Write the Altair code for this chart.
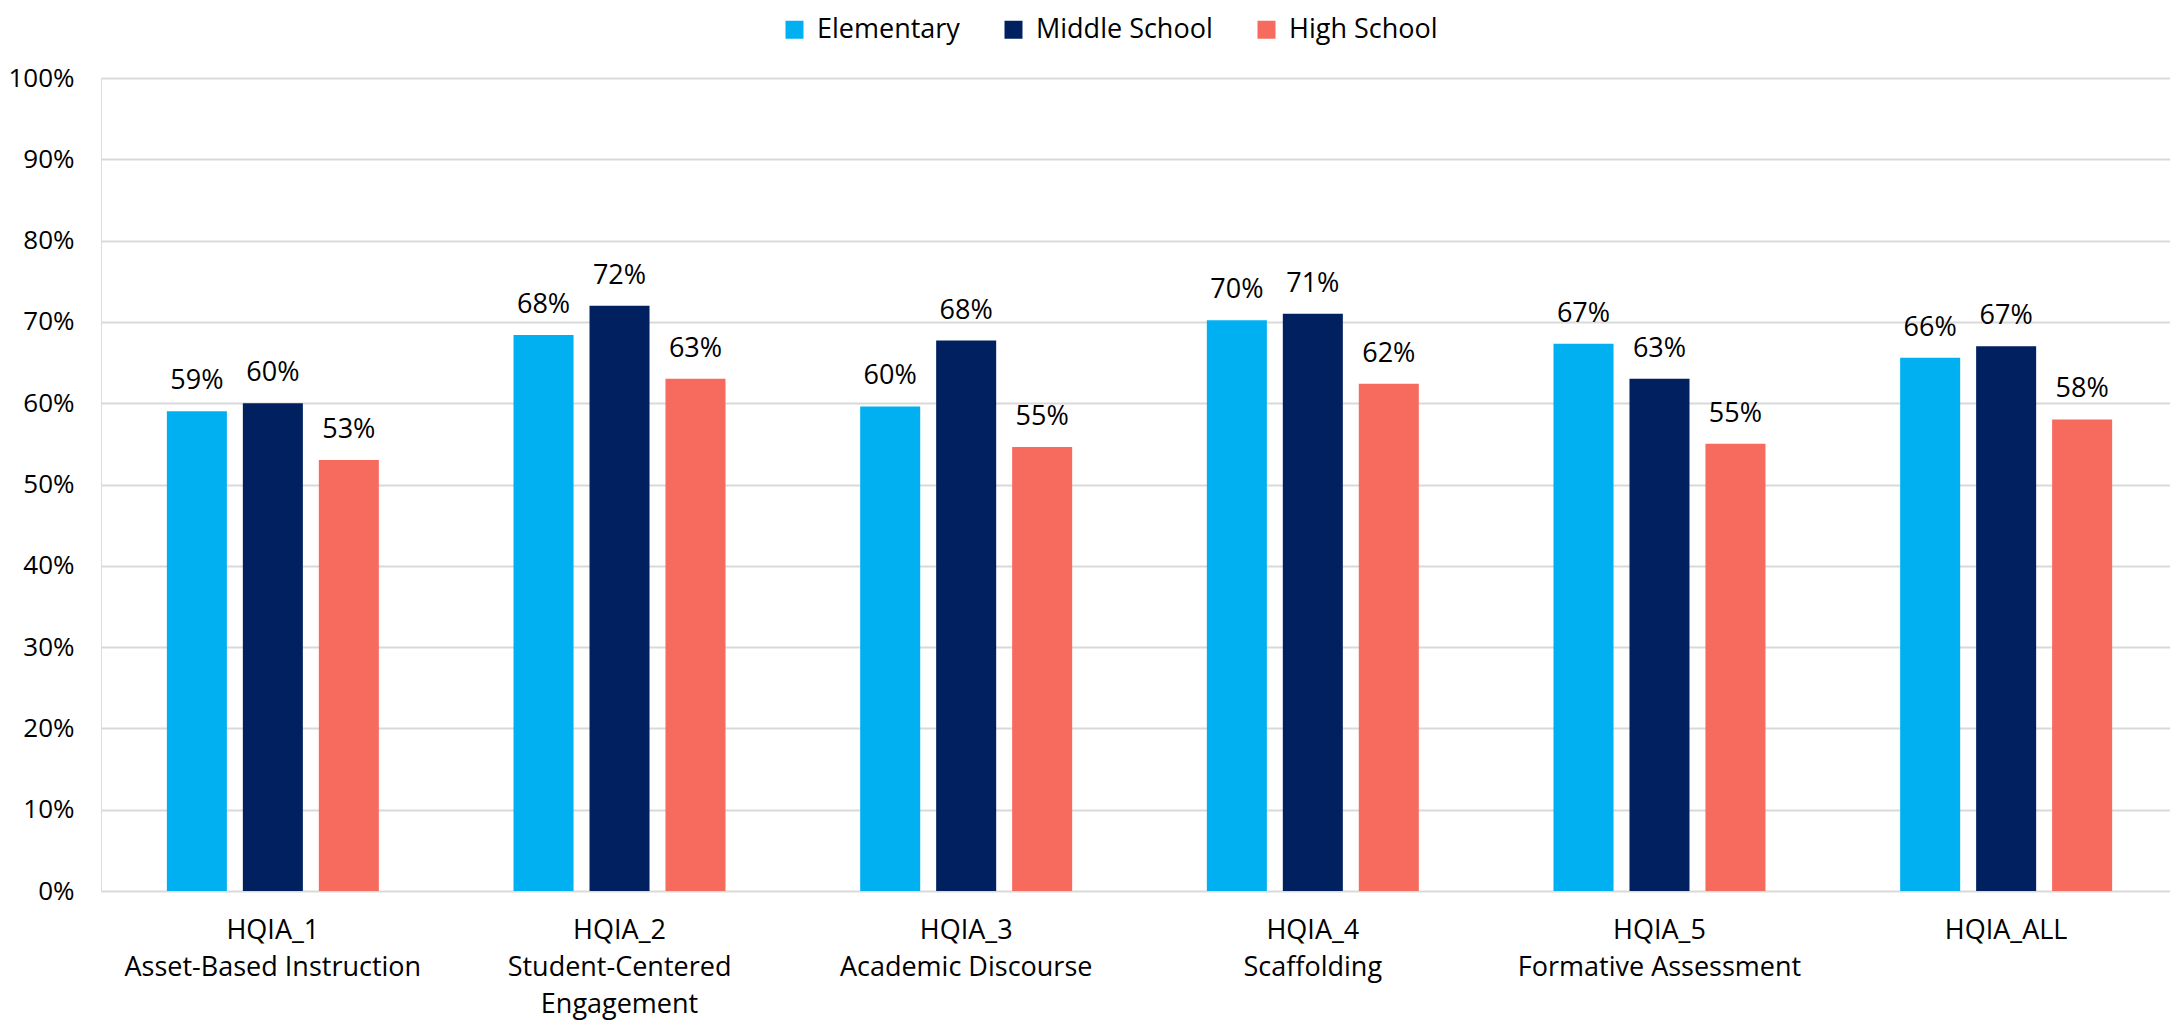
import altair as alt
import pandas as pd

categories = [
    "HQIA_1|Asset-Based Instruction",
    "HQIA_2|Student-Centered|Engagement",
    "HQIA_3|Academic Discourse",
    "HQIA_4|Scaffolding",
    "HQIA_5|Formative Assessment",
    "HQIA_ALL",
]
levels = ["Elementary", "Middle School", "High School"]
elementary = [0.590, 0.684, 0.596, 0.702, 0.673, 0.656]
middle_school = [0.600, 0.720, 0.677, 0.710, 0.630, 0.670]
high_school = [0.530, 0.630, 0.546, 0.624, 0.550, 0.580]
colors = ["#00B0F0", "#002060", "#F76B5E"]
y_ticks = [0, 0.1, 0.2, 0.3, 0.4, 0.5, 0.6, 0.7, 0.8, 0.9, 1.0]

rows = []
for series_name, vals in zip(levels, [elementary, middle_school, high_school]):
    for cat, v in zip(categories, vals):
        rows.append({"category": cat, "level": series_name, "value": v})
df = pd.DataFrame(rows)

FONT = "Open Sans"
FS = 27

base = alt.Chart(df).encode(
    x=alt.X(
        "category:N",
        sort=categories,
        scale=alt.Scale(paddingInner=0.3885, paddingOuter=0.19, range=[0, 2077]),
        axis=alt.Axis(
            title=None,
            labelAngle=0,
            domain=False,
            ticks=False,
            labelPadding=26,
            labelBaseline="top",
            labelLineHeight=37,
            labelFontSize=FS,
            labelFont=FONT,
            labelColor="black",
            labelLimit=0,
            labelExpr="split(datum.label, '|')",
        ),
    ),
    xOffset=alt.XOffset(
        "level:N", sort=levels, scale=alt.Scale(paddingInner=0.21, paddingOuter=0)
    ),
    y=alt.Y(
        "value:Q",
        scale=alt.Scale(domain=[0, 1]),
        axis=alt.Axis(
            title=None,
            values=y_ticks,
            format=".0%",
            grid=True,
            gridColor="#D9D9D9",
            gridWidth=2,
            domain=False,
            ticks=False,
            labelPadding=27,
            labelFontSize=26,
            labelFont=FONT,
            labelColor="black",
            labelLimit=0,
        ),
    ),
)

bars = base.mark_bar().encode(
    color=alt.Color(
        "level:N",
        sort=levels,
        scale=alt.Scale(domain=levels, range=colors),
        legend=alt.Legend(
            title=None,
            orient="none",
            legendX=680,
            legendY=-62,
            direction="horizontal",
            columns=3,
            symbolType="square",
            symbolSize=324,
            symbolStrokeWidth=0,
            labelFontSize=FS,
            labelFont=FONT,
            labelColor="black",
            labelLimit=400,
            labelOffset=9,
            columnPadding=40,
            padding=0,
        ),
    )
)

text = base.mark_text(
    baseline="alphabetic", dy=-22, font=FONT, fontSize=FS, color="black"
).encode(text=alt.Text("value:Q", format=".0%"))

chart = (
    (bars + text)
    .properties(
        width=2069,
        height=813,
        autosize=alt.AutoSizeParams(type="none"),
        padding={"left": 93, "top": 70, "right": 0, "bottom": 129},
    )
    .configure_view(stroke=None)
    .configure(font=FONT)
)

chart.save("out.html", embed_options={"renderer": "svg", "actions": False})
